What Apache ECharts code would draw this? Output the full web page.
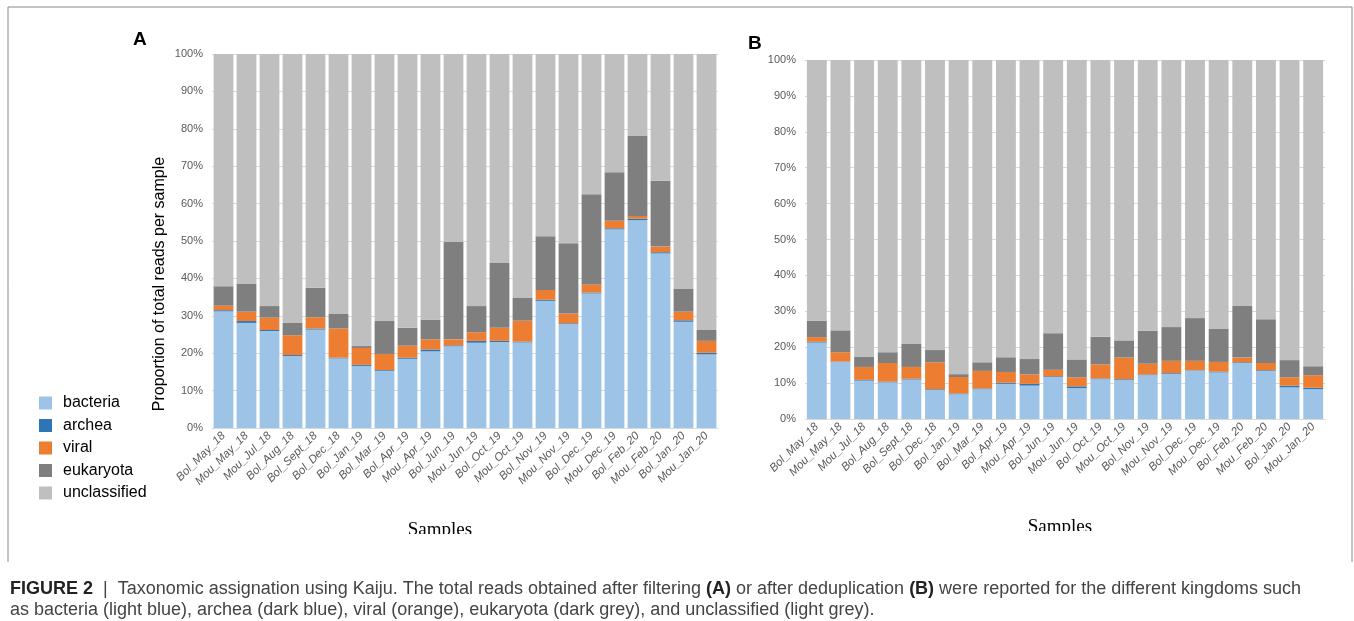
<!DOCTYPE html>
<html>
<head>
<meta charset="utf-8">
<script src="https://cdn.jsdelivr.net/npm/echarts@6/dist/echarts.min.js"></script>
<style>
html,body{margin:0;padding:0;background:#fff;}
#chart{width:1354px;height:621px;}
</style>
</head>
<body>
<div id="chart"></div>
<script>
const categories = ['Bol_May_18','Mou_May_18','Mou_Jul_18','Bol_Aug_18','Bol_Sept_18','Bol_Dec_18','Bol_Jan_19','Bol_Mar_19','Bol_Apr_19','Mou_Apr_19','Bol_Jun_19','Mou_Jun_19','Bol_Oct_19','Mou_Oct_19','Bol_Nov_19','Mou_Nov_19','Bol_Dec_19','Mou_Dec_19','Bol_Feb_20','Mou_Feb_20','Bol_Jan_20','Mou_Jan_20'];
const seriesNames = ['bacteria','archea','viral','eukaryota','unclassified'];
const yTicks = [0,10,20,30,40,50,60,70,80,90,100];

// Panel A: total reads after filtering (% of reads)
const A_bacteria     = [31.2,28.1,25.9,19.2,26.3,18.6,16.6,15.3,18.5,20.5,21.9,22.8,23.0,22.9,34.0,27.8,36.0,53.1,55.6,46.7,28.4,19.7];
const A_archea       = [0.3,0.5,0.3,0.3,0.3,0.2,0.3,0.2,0.3,0.5,0.2,0.5,0.3,0.2,0.3,0.2,0.2,0.3,0.4,0.3,0.4,0.4];
const A_viral        = [1.2,2.5,3.3,5.3,3.0,7.8,4.5,4.3,3.2,2.7,1.6,2.3,3.5,5.6,2.6,2.6,2.2,2.0,0.7,1.5,2.3,3.2];
const A_eukaryota    = [5.2,7.4,3.1,3.3,7.9,3.9,0.5,8.8,4.8,5.3,26.0,7.0,17.3,6.2,14.4,18.8,24.1,13.0,21.5,17.6,6.2,2.9];
const A_unclassified = [62.1,61.5,67.4,71.9,62.5,69.5,78.1,71.4,73.2,71.0,50.3,67.4,55.9,65.1,48.7,50.6,37.5,31.6,21.8,33.9,62.7,73.8];

// Panel B: total reads after deduplication (% of reads)
const B_bacteria     = [21.3,15.9,10.7,10.2,11.0,8.1,6.9,8.3,9.8,9.3,11.7,8.6,11.1,10.9,12.2,12.6,13.5,13.0,15.6,13.4,8.8,8.3];
const B_archea       = [0.2,0.1,0.2,0.2,0.2,0.2,0.2,0.2,0.3,0.5,0.2,0.5,0.2,0.2,0.2,0.2,0.1,0.2,0.2,0.2,0.5,0.4];
const B_viral        = [1.3,2.6,3.6,5.2,3.3,7.5,4.6,4.9,3.0,2.6,1.8,2.5,3.9,6.0,3.0,3.4,2.6,2.7,1.3,2.0,2.3,3.5];
const B_eukaryota    = [4.6,6.1,2.8,3.0,6.4,3.4,0.8,2.4,4.1,4.3,10.2,5.0,7.7,4.8,9.2,9.4,11.9,9.2,14.4,12.2,4.8,2.5];
const B_unclassified = [72.6,75.3,82.7,81.4,79.1,80.8,87.5,84.2,82.8,83.3,76.1,83.4,77.1,78.1,75.4,74.4,71.9,74.9,68.5,72.2,83.6,85.3];

const colors = ['#9DC3E6','#2E75B6','#ED7D31','#7F7F7F','#BFBFBF'];
const A_data = [A_bacteria,A_archea,A_viral,A_eukaryota,A_unclassified];
const B_data = [B_bacteria,B_archea,B_viral,B_eukaryota,B_unclassified];

const labelColor = '#595959';
const labelFont = 'Liberation Sans';

function xAxisFor(gi){
  return {
    type:'category', gridIndex:gi, data:categories,
    axisLine:{show:true,lineStyle:{color:'#D9D9D9'}},
    axisTick:{show:false},
    axisLabel:{rotate:45, fontSize:11.5, color:labelColor, fontFamily:labelFont, fontStyle:'italic', margin:6, interval:0}
  };
}
function yAxisFor(gi){
  return {
    type:'value', gridIndex:gi, min:0, max:100, interval:10,
    axisLine:{show:false}, axisTick:{show:false},
    splitLine:{show:true,lineStyle:{color:'#D9D9D9',width:1}},
    axisLabel:{formatter:'{value}%', fontSize:11, color:labelColor, fontFamily:labelFont, margin:9}
  };
}
const series = [];
[A_data,B_data].forEach((ds,gi)=>{
  ds.forEach((arr,si)=>{
    series.push({
      name:seriesNames[si], type:'bar', stack:'s'+gi,
      xAxisIndex:gi, yAxisIndex:gi, data:arr,
      barCategoryGap: gi===0 ? '14%' : '16%',
      itemStyle:{color:colors[si]},
      emphasis:{disabled:true},
      animation:false
    });
  });
});

const chart = echarts.init(document.getElementById('chart'), null, {renderer:'canvas'});
chart.setOption({
  animation:false,
  backgroundColor:'#ffffff',
  grid:[
    {left:212, right:636, top:54, bottom:193},
    {left:805, right:29, top:60, bottom:202}
  ],
  xAxis:[xAxisFor(0), xAxisFor(1)],
  yAxis:[yAxisFor(0), yAxisFor(1)],
  legend:{
    orient:'vertical', left:34, top:390,
    itemWidth:13, itemHeight:13, itemGap:6.5,
    icon:'rect',
    data:seriesNames,
    textStyle:{fontSize:16, color:'#000', fontFamily:labelFont, padding:[0,0,0,6]},
    selectedMode:false
  },
  graphic:[
    {type:'line', shape:{x1:8,y1:7,x2:1352,y2:7}, style:{stroke:'#888',lineWidth:1}, silent:true},
    {type:'line', shape:{x1:8,y1:7,x2:8,y2:562}, style:{stroke:'#888',lineWidth:1}, silent:true},
    {type:'line', shape:{x1:1352,y1:7,x2:1352,y2:562}, style:{stroke:'#888',lineWidth:1}, silent:true},
    {type:'text', left:133, top:30, style:{text:'A', font:'bold 19px Liberation Sans', fill:'#000'}},
    {type:'text', left:748, top:34, style:{text:'B', font:'bold 19px Liberation Sans', fill:'#000'}},
    {type:'text', x:160, y:284, rotation:Math.PI/2, style:{text:'Proportion of total reads per sample', font:'16px Liberation Sans', fill:'#000', align:'center', verticalAlign:'middle'}},
    {type:'text', x:440, y:521, style:{text:'Samples', font:'19px Liberation Serif', fill:'#000', align:'center', verticalAlign:'top'}},
    {type:'text', x:1060, y:518, style:{text:'Samples', font:'19px Liberation Serif', fill:'#000', align:'center', verticalAlign:'top'}},
    {type:'rect', shape:{x:380,y:534,width:130,height:20}, style:{fill:'#fff'}, z:100},
    {type:'rect', shape:{x:1000,y:531,width:130,height:20}, style:{fill:'#fff'}, z:100},
    {type:'text', left:10, top:580, style:{
      rich:{
        b:{font:'bold 18px Liberation Sans', fill:'#222'},
        n:{font:'18px Liberation Sans', fill:'#444'}
      },
      text:'{b|FIGURE 2}{n|  |  Taxonomic assignation using Kaiju. The total reads obtained after filtering }{b|(A)}{n| or after deduplication }{b|(B)}{n| were reported for the different kingdoms such}'
    }},
    {type:'text', left:10, top:601, style:{
      font:'18px Liberation Sans', fill:'#444',
      text:'as bacteria (light blue), archea (dark blue), viral (orange), eukaryota (dark grey), and unclassified (light grey).'
    }}
  ],
  series:series
});
</script>
</body>
</html>
